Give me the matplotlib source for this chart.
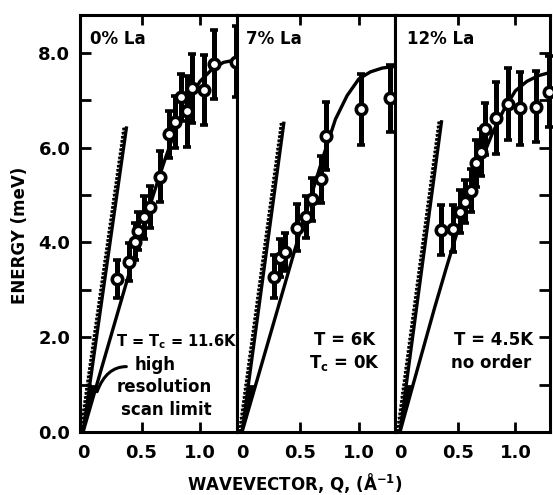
import numpy as np
import matplotlib
matplotlib.use("Agg")
import matplotlib.pyplot as plt
import matplotlib.patheffects as pe

plt.rcParams['font.family'] = ['DejaVu Sans']
plt.rcParams['font.weight'] = 'bold'
plt.rcParams['mathtext.default'] = 'bf'

# ---- data ----
titles = ['0% La', '7% La', '12% La']

# 0% La
q0 = [0.29, 0.39, 0.44, 0.47, 0.52, 0.57, 0.66, 0.735, 0.786, 0.835, 0.886, 0.93, 1.03, 1.12, 1.31]
e0 = [3.22, 3.59, 4.02, 4.25, 4.53, 4.75, 5.39, 6.28, 6.55, 7.06, 6.77, 7.25, 7.21, 7.76, 7.81]
err0 = [0.4, 0.4, 0.4, 0.4, 0.45, 0.45, 0.53, 0.5, 0.55, 0.5, 0.75, 0.73, 0.74, 0.73, 0.75]

# 7% La
q7 = [0.27, 0.325, 0.37, 0.47, 0.55, 0.60, 0.675, 0.715, 1.02, 1.265]
e7 = [3.28, 3.67, 3.80, 4.31, 4.54, 4.91, 5.33, 6.25, 6.81, 7.04]
err7 = [0.45, 0.4, 0.4, 0.5, 0.45, 0.45, 0.5, 0.72, 0.75, 0.7]

# 12% La
q12 = [0.357, 0.458, 0.516, 0.565, 0.615, 0.658, 0.70, 0.74, 0.835, 0.933, 1.04, 1.18, 1.29]
e12 = [4.26, 4.29, 4.65, 4.86, 5.09, 5.67, 5.90, 6.39, 6.62, 6.93, 6.83, 6.86, 7.18]
err12 = [0.53, 0.5, 0.45, 0.45, 0.45, 0.5, 0.5, 0.55, 0.76, 0.76, 0.77, 0.75, 0.75]

# dispersion curves
q_curve = [0, 0.1, 0.2, 0.3, 0.4, 0.5, 0.6, 0.7, 0.8, 0.9, 1.0, 1.1, 1.2, 1.32]
e_curve0 = [0, 0.85, 1.7, 2.55, 3.4, 4.2, 5.0, 5.75, 6.45, 7.0, 7.4, 7.65, 7.8, 7.86]
e_curve7 = [0, 0.85, 1.7, 2.55, 3.4, 4.25, 5.05, 5.85, 6.6, 7.1, 7.45, 7.6, 7.68, 7.72]
e_curve12 = [0, 0.88, 1.75, 2.62, 3.45, 4.25, 5.0, 5.7, 6.3, 6.8, 7.2, 7.4, 7.52, 7.6]

# high resolution scan limit lines
q_lim0, e_lim0 = [0, 0.373], [0, 6.45]
q_lim7, e_lim7 = [0, 0.36], [0, 6.55]
q_lim12, e_lim12 = [0, 0.362], [0, 6.58]

data = [(q0, e0, err0, e_curve0, q_lim0, e_lim0),
        (q7, e7, err7, e_curve7, q_lim7, e_lim7),
        (q12, e12, err12, e_curve12, q_lim12, e_lim12)]

# ---- layout (pixels of a 553x495 figure) ----
W, H = 553, 495
px_edges = [(80, 237), (237, 395), (395, 550)]
xlims = [(-0.026, 1.316), (-0.043, 1.31), (-0.043, 1.30)]
bottom_px, top_px = 432, 15

fig = plt.figure(figsize=(W / 100, H / 100), dpi=100)
axes = []
for i, (l, r) in enumerate(px_edges):
    ax = fig.add_axes([l / W, (H - bottom_px) / H, (r - l) / W, (bottom_px - top_px) / H])
    axes.append(ax)
    q, e, err, ec, ql, el = data[i]

    # fitted dispersion curve
    ax.plot(q_curve, ec, color='k', lw=2.4, zorder=2, solid_capstyle='butt')
    # scan limit (sawtooth line)
    ax.plot(ql, el, color='k', lw=2.3, zorder=2, solid_capstyle='butt',
            path_effects=[pe.withTickedStroke(angle=110, spacing=3.0, length=1.0, linewidth=2.0)])
    # black wedge near origin between the two lines
    e_fill = np.array([0, 1.0])
    ax.fill_betweenx(e_fill, np.interp(e_fill, el, ql), np.interp(e_fill, ec, q_curve),
                     color='k', lw=0, zorder=2)
    # data
    ax.errorbar(q, e, yerr=err, fmt='o', color='k', mfc='white', mec='k', ms=7.5, mew=2.6,
                elinewidth=3.6, capsize=3, capthick=3.6, zorder=3, clip_on=False)

    ax.set_xlim(*xlims[i])
    ax.set_ylim(0, 8.8)
    ax.set_xticks([0, 0.5, 1.0])
    ax.set_xticklabels(['0', '0.5', '1.0'], fontsize=13, fontweight='bold')
    ax.tick_params(axis='x', which='both', direction='in', length=7, width=2, pad=9,
                   top=True, bottom=True)
    for s in ax.spines.values():
        s.set_linewidth(2.2)
    ax.set_yticks([0, 2, 4, 6, 8])
    ax.set_yticks([1, 3, 5, 7], minor=True)
    ax.tick_params(axis='y', which='both', direction='in', length=8, width=2,
                   left=(i == 0), right=(i == 2), labelleft=(i == 0))
    ax.text(0.06 if i != 1 else 0.03, 8.3, titles[i], fontsize=12, fontweight='bold',
            ha='left', va='center')

# top/bottom ticks only at 0.5 and 1.0
for ax in axes:
    for t in ax.xaxis.get_major_ticks()[:1]:
        t.tick1line.set_visible(False)
        t.tick2line.set_visible(False)

axes[0].set_yticklabels(['0.0', '2.0', '4.0', '6.0', '8.0'], fontsize=13, fontweight='bold')
axes[0].tick_params(axis='y', pad=7)

# panel annotations
axes[0].text(0.80, 1.9, 'T = T$_c$ = 11.6K', fontsize=10.5, ha='center', va='center')
axes[0].text(0.62, 1.41, 'high', fontsize=12, ha='center', va='center')
axes[0].text(0.69, 0.95, 'resolution', fontsize=12, ha='center', va='center')
axes[0].text(0.71, 0.46, 'scan limit', fontsize=12, ha='center', va='center')
axes[0].annotate('', xy=(0.12, 0.85), xytext=(0.37, 1.38),
                 arrowprops=dict(arrowstyle='-', lw=2.2, color='k',
                                 connectionstyle='angle3,angleA=180,angleB=70',
                                 shrinkA=0, shrinkB=0))

axes[1].text(0.88, 1.94, 'T = 6K', fontsize=12, ha='center', va='center')
axes[1].text(0.88, 1.46, 'T$_c$ = 0K', fontsize=12, ha='center', va='center')

axes[2].text(0.81, 1.94, 'T = 4.5K', fontsize=12, ha='center', va='center')
axes[2].text(0.79, 1.46, 'no order', fontsize=12, ha='center', va='center')

fig.text(295 / W, 1 - 483 / H, 'WAVEVECTOR, Q, (Å$^{-1}$)', fontsize=12,
         fontweight='bold', ha='center', va='center')
fig.text(20 / W, 1 - 235 / H, 'ENERGY (meV)', fontsize=12, fontweight='bold',
         rotation=90, ha='center', va='center')

fig.savefig('out.png', dpi=100)
